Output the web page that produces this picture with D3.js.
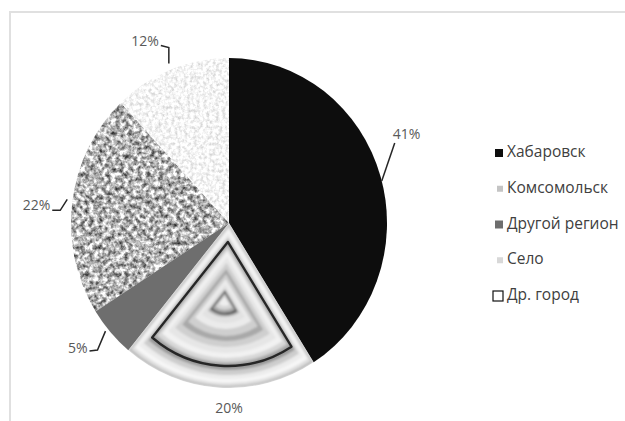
<!DOCTYPE html>
<html>
<head>
<meta charset="utf-8">
<script src="https://cdn.jsdelivr.net/npm/d3@7"></script>
<style>
  body { margin: 0; background: #fff; }
  svg { display: block; }
</style>
</head>
<body>
<svg width="625" height="421"></svg>
<script>
// data (legend order)
var categories = ["Хабаровск", "Комсомольск", "Другой регион", "Село", "Др. город"];
var values = [41, 22, 5, 12, 20];
// clockwise order of slices from 12 o'clock
var pieOrder = ["Хабаровск", "Др. город", "Другой регион", "Комсомольск", "Село"];

var svg = d3.select("svg");
var cx = 229, cy = 223, rx = 158, ry = 165;

var defs = svg.append("defs");

// speckled textures
function speckle(id, a, b, freq, seed) {
    var f = defs.append("filter").attr("id", id)
        .attr("x", 0).attr("y", 0).attr("width", 1).attr("height", 1)
        .attr("color-interpolation-filters", "sRGB");
    f.append("feTurbulence").attr("type", "fractalNoise")
        .attr("baseFrequency", freq).attr("numOctaves", 3).attr("seed", seed);
    var row = a + " 0 0 0 " + b;
    f.append("feColorMatrix").attr("type", "matrix")
        .attr("values", row + " " + row + " " + row + " 0 0 0 0 1");
    f.append("feGaussianBlur").attr("stdDeviation", 0.5);
    f.append("feComposite").attr("in2", "SourceGraphic").attr("operator", "in");
}
speckle("speckKoms", 1.45, -0.02, 0.22, 7);
speckle("speckSelo", 0.4, 0.76, 0.3, 3);

defs.append("filter").attr("id", "soft")
    .append("feGaussianBlur").attr("stdDeviation", 1.3);

// frame
svg.append("rect")
    .attr("x", 10).attr("y", 12)
    .attr("width", 700).attr("height", 500)
    .attr("fill", "none")
    .attr("stroke", "#e0e0e0")
    .attr("stroke-width", 2);

var items = categories.map(function (c, i) { return { name: c, v: values[i] }; });

var pie = d3.pie()
    .value(function (d) { return d.v; })
    .sort(function (a, b) { return pieOrder.indexOf(a.name) - pieOrder.indexOf(b.name); });
var arcs = pie(items);

var arc = d3.arc().innerRadius(0).outerRadius(ry);

var g = svg.append("g")
    .attr("transform", "translate(" + cx + "," + cy + ") scale(" + (rx / ry) + ",1)");

var solid = { "Хабаровск": "#0d0d0d", "Другой регион": "#6e6e6e" };
var textured = { "Комсомольск": "speckKoms", "Село": "speckSelo" };

arcs.forEach(function (d) {
    if (solid[d.data.name]) {
        g.append("path").attr("d", arc(d)).attr("fill", solid[d.data.name]);
    } else if (textured[d.data.name]) {
        g.append("path").attr("d", arc(d)).attr("fill", "#999")
            .attr("filter", "url(#" + textured[d.data.name] + ")");
    } else {
        drawCity(d);
    }
});

// embossed wedges for "Др. город"
function drawCity(d) {
    var mid = (d.startAngle + d.endAngle) / 2;
    var ux = Math.sin(mid), uy = -Math.cos(mid);
    defs.append("clipPath").attr("id", "cityClip")
        .append("path").attr("d", arc(d));
    // [shift along bisector, radius, fill]
    var layers = [
        [0, 165, "#b8b8b8"], [3, 160, "#dedede"], [6, 154, "#f6f6f6"],
        [10, 146, "#ececec"], [14, 138, "#cdcdcd"], [17, 130, "#9a9a9a"],
        [21, 120, "#b4b4b4"], [24, 115, "#d8d8d8"], [28, 107, "#f2f2f2"],
        [34, 96, "#e6e6e6"], [40, 84, "#cfcfcf"], [46, 72, "#a9a9a9"],
        [51, 62, "#cfcfcf"], [56, 50, "#ebebeb"], [62, 38, "#e2e2e2"],
        [66, 28, "#b3b3b3"], [68, 24, "#555"], [70, 20, "#a8a8a8"],
        [72, 15, "#d6d6d6"], [74, 9, "#eeeeee"]
    ];
    var cg = g.append("g").attr("clip-path", "url(#cityClip)");
    var bg = cg.append("g").attr("filter", "url(#soft)");
    layers.forEach(function (l) {
        var a = d3.arc().innerRadius(0).outerRadius(l[1])
            .startAngle(d.startAngle).endAngle(d.endAngle);
        bg.append("path")
            .attr("transform", "translate(" + (l[0] * ux) + "," + (l[0] * uy) + ")")
            .attr("d", a())
            .attr("fill", l[2]);
    });
    var line = d3.arc().innerRadius(0).outerRadius(124)
        .startAngle(d.startAngle).endAngle(d.endAngle);
    cg.append("path")
        .attr("transform", "translate(" + (19 * ux) + "," + (19 * uy) + ")")
        .attr("d", line())
        .attr("fill", "none")
        .attr("stroke", "#262626")
        .attr("stroke-width", 2.4)
        .attr("stroke-linejoin", "round");
}

// data labels with leader lines, offsets from the slice edge
var labelLayout = {
    "Хабаровск": { pts: [[1, 4], [14, -34]], text: [12, -42], anchor: "start" },
    "Др. город": { pts: [], text: [10, 22], anchor: "middle" },
    "Другой регион": { pts: [[-5, -1], [-13, 18], [-21, 19]], text: [-23, 17], anchor: "end" },
    "Комсомольск": { pts: [[-5, -3], [-12, 8], [-20, 8]], text: [-22, 4], anchor: "end" },
    "Село": { pts: [[-2, -6], [-2, -22], [-10, -24]], text: [-12, -27], anchor: "end" }
};

arcs.forEach(function (d) {
    var mid = (d.startAngle + d.endAngle) / 2;
    var ex = cx + rx * Math.sin(mid), ey = cy - ry * Math.cos(mid);
    var lay = labelLayout[d.data.name];
    if (lay.pts.length) {
        svg.append("path")
            .datum(lay.pts.map(function (p) { return [ex + p[0], ey + p[1]]; }))
            .attr("d", d3.line())
            .attr("fill", "none")
            .attr("stroke", "#262626")
            .attr("stroke-width", 1.5);
    }
    svg.append("text")
        .attr("x", ex + lay.text[0])
        .attr("y", ey + lay.text[1])
        .attr("text-anchor", lay.anchor)
        .attr("dominant-baseline", "middle")
        .attr("font-family", "Open Sans, sans-serif")
        .attr("font-size", 14)
        .attr("fill", "#595959")
        .text(Math.round(d.data.v) + "%");
});

// legend
var legendY = d3.scalePoint().domain(categories).range([153, 296]);
var swatch = {
    "Хабаровск": { size: 8, fill: "#0d0d0d", stroke: "none" },
    "Комсомольск": { size: 6, fill: "#c4c4c4", stroke: "none" },
    "Другой регион": { size: 8, fill: "#6e6e6e", stroke: "none" },
    "Село": { size: 6, fill: "#d8d8d8", stroke: "none" },
    "Др. город": { size: 10, fill: "#fff", stroke: "#111" }
};
var legend = svg.append("g");
categories.forEach(function (c) {
    var s = swatch[c];
    var y = legendY(c);
    legend.append("rect")
        .attr("x", 503 - s.size).attr("y", y - s.size / 2)
        .attr("width", s.size).attr("height", s.size)
        .attr("fill", s.fill).attr("stroke", s.stroke).attr("stroke-width", 1.2);
    legend.append("text")
        .attr("x", 507).attr("y", y)
        .attr("dominant-baseline", "middle")
        .attr("font-family", "Open Sans, sans-serif")
        .attr("font-size", 15.5)
        .attr("fill", "#404040")
        .text(c);
});
</script>
</body>
</html>
